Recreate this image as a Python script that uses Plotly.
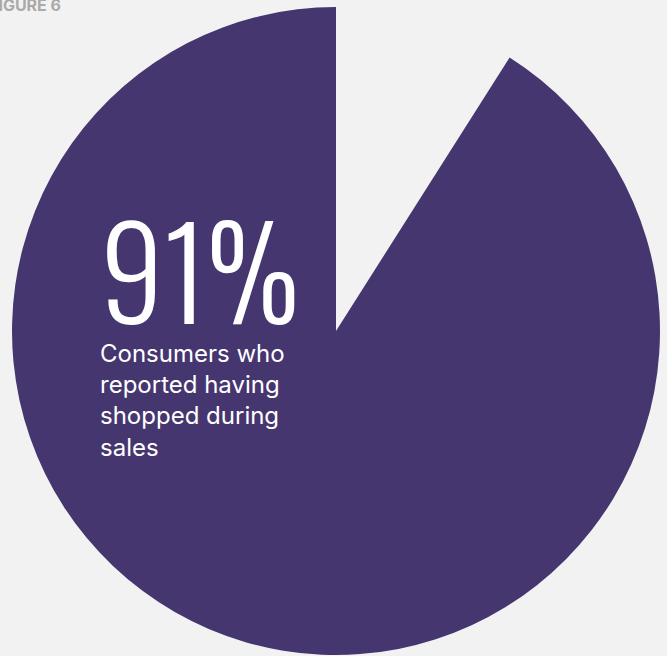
import plotly.graph_objects as go

labels = ["Did not shop during sales", "Shopped during sales"]
values = [9, 91]
slice_colors = ["#F2F2F2", "#46366F"]
headline = "91%"
caption_lines = ["Consumers who", "reported having", "shopped during", "sales"]
figure_label = "FIGURE 6"

W, H = 667, 656
cx, cy, r = 336, 331, 324

fig = go.Figure(go.Pie(
    labels=labels, values=values, sort=False, direction="clockwise", rotation=0,
    marker=dict(colors=slice_colors, line=dict(width=0)),
    textinfo="none", hoverinfo="skip", showlegend=False,
    domain=dict(x=[(cx - r) / W, (cx + r) / W], y=[1 - (cy + r) / H, 1 - (cy - r) / H]),
))

fig.add_annotation(text=headline, x=98 / W, y=1 - 362 / H, xref="paper", yref="paper",
                   xanchor="left", yanchor="bottom", showarrow=False,
                   font=dict(family="Oswald, Roboto Condensed, sans-serif", size=126, weight=300, color="white"))
fig.add_annotation(text="<br>".join(caption_lines), x=98 / W, y=1 - 337 / H, xref="paper", yref="paper",
                   xanchor="left", yanchor="top", align="left", showarrow=False,
                   font=dict(family="Inter, sans-serif", size=24, color="white"))
fig.add_annotation(text="<b>" + figure_label + "</b>", x=-13 / W, y=1 + 7 / H, xref="paper", yref="paper",
                   xanchor="left", yanchor="top", showarrow=False,
                   font=dict(family="Inter, sans-serif", size=16, color="#AAAAAA"))

fig.update_layout(width=W, height=H, margin=dict(l=0, r=0, t=0, b=0),
                  paper_bgcolor="#F2F2F2", plot_bgcolor="#F2F2F2")
fig.write_html("out.html")
